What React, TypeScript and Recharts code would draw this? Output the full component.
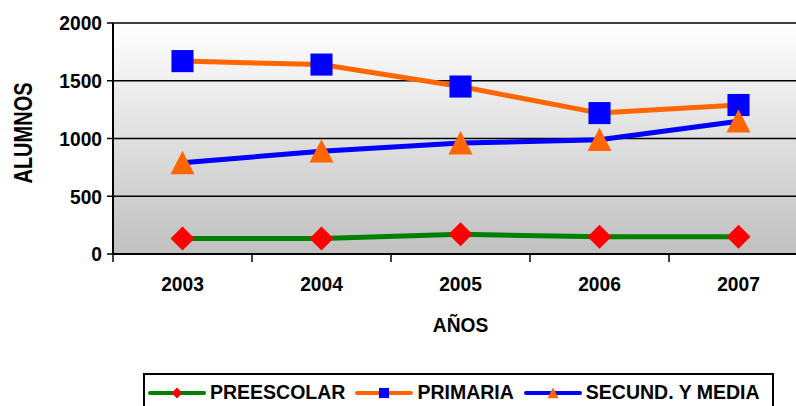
import { CartesianGrid, Line, LineChart, XAxis, YAxis } from 'recharts';

const YEARS = ['2003', '2004', '2005', '2006', '2007'];
const PREESCOLAR = [135, 135, 170, 150, 150];
const PRIMARIA = [1670, 1640, 1450, 1220, 1290];
const SECUNDARIA = [790, 890, 960, 990, 1150];
const Y_TICKS = [0, 500, 1000, 1500, 2000];

const data = YEARS.map((year, i) => ({
  year,
  preescolar: PREESCOLAR[i],
  primaria: PRIMARIA[i],
  secundaria: SECUNDARIA[i],
}));

const FONT = '"Liberation Sans", Arial, sans-serif';
const CHART_W = 808;
const PLOT_LEFT = 113;
const HALF_BAND = (CHART_W - PLOT_LEFT) / YEARS.length / 2;
const TEXT_SCALE = 'scale(0.96 1.05)';

type Shape = 'diamond' | 'square' | 'triangle';

const SERIES: { key: string; name: string; line: string; marker: string; shape: Shape }[] = [
  { key: 'preescolar', name: 'PREESCOLAR', line: '#008000', marker: '#ff0000', shape: 'diamond' },
  { key: 'primaria', name: 'PRIMARIA', line: '#ff6600', marker: '#0000ff', shape: 'square' },
  { key: 'secundaria', name: 'SECUND. Y MEDIA', line: '#0000ff', marker: '#ff6600', shape: 'triangle' },
];

function Marker({ shape, cx, cy, r, fill }: { shape: Shape; cx: number; cy: number; r: number; fill: string }) {
  if (shape === 'diamond')
    return <polygon points={`${cx},${cy - r} ${cx + r},${cy} ${cx},${cy + r} ${cx - r},${cy}`} fill={fill} />;
  if (shape === 'square')
    return <rect x={cx - r * 0.92} y={cy - r * 0.92} width={r * 1.84} height={r * 1.84} fill={fill} />;
  return <polygon points={`${cx},${cy - r} ${cx + r},${cy + r * 0.95} ${cx - r},${cy + r * 0.95}`} fill={fill} />;
}

function BoldText({ x, y, anchor, children }: { x: number; y: number; anchor: string; children: any }) {
  return (
    <text
      transform={`translate(${x} ${y}) ${TEXT_SCALE}`}
      textAnchor={anchor}
      dominantBaseline="central"
      fontFamily={FONT}
      fontWeight="bold"
      fontSize={20}
      fill="#000"
    >
      {children}
    </text>
  );
}

function YearTick({ x, y, payload, index }: any) {
  const last = index === YEARS.length - 1;
  return (
    <g>
      <line x1={x - HALF_BAND} y1={y} x2={x - HALF_BAND} y2={y + 8} stroke="#000" strokeWidth={1.5} />
      {last && <line x1={x + HALF_BAND} y1={y} x2={x + HALF_BAND} y2={y + 8} stroke="#000" strokeWidth={1.5} />}
      <BoldText x={x} y={y + 30} anchor="middle">
        {payload.value}
      </BoldText>
    </g>
  );
}

function ValueTick({ x, y, payload }: any) {
  return (
    <BoldText x={x} y={y} anchor="end">
      {payload.value}
    </BoldText>
  );
}

function LegendBox() {
  return (
    <div
      style={{
        position: 'absolute',
        left: 143,
        top: 373,
        width: 631,
        height: 40,
        border: '2px solid #000',
        background: '#fff',
        display: 'flex',
        alignItems: 'center',
        paddingLeft: 3,
        boxSizing: 'border-box',
        fontFamily: FONT,
        fontWeight: 'bold',
        fontSize: 19.5,
        color: '#000',
      }}
    >
      {SERIES.map((s) => (
        <div key={s.key} style={{ display: 'flex', alignItems: 'center', marginRight: 10, height: 30 }}>
          <svg width={58} height={16} style={{ marginRight: 4 }}>
            <line x1={2} y1={8} x2={56} y2={8} stroke={s.line} strokeWidth={4} strokeLinecap="round" />
            <Marker shape={s.shape} cx={29} cy={8} r={5.5} fill={s.marker} />
          </svg>
          <span style={{ display: 'inline-block', whiteSpace: 'nowrap', lineHeight: 1 }}>{s.name}</span>
        </div>
      ))}
    </div>
  );
}

export default function App() {
  return (
    <div
      style={{
        position: 'absolute',
        left: 0,
        top: 0,
        width: 796,
        height: 406,
        overflow: 'hidden',
        background: '#fff',
      }}
    >
      <LineChart width={CHART_W} height={406} data={data} margin={{ top: 23, right: 0, bottom: 0, left: 0 }}>
        <defs>
          <linearGradient id="plotBg" x1="0" y1="0" x2="0" y2="1">
            <stop offset="0%" stopColor="#ffffff" />
            <stop offset="100%" stopColor="#c0c0c0" />
          </linearGradient>
        </defs>
        <CartesianGrid vertical={false} stroke="#000" strokeWidth={1.5} fill="url(#plotBg)" fillOpacity={1} />
        <XAxis
          dataKey="year"
          height={152}
          padding={{ left: HALF_BAND, right: HALF_BAND }}
          axisLine={{ stroke: '#000', strokeWidth: 2 }}
          tickLine={false}
          tickSize={0}
          tickMargin={0}
          tick={<YearTick />}
          interval={0}
          label={{
            content: () => (
              <BoldText x={(PLOT_LEFT + CHART_W) / 2} y={325} anchor="middle">
                AÑOS
              </BoldText>
            ),
          }}
        />
        <YAxis
          width={PLOT_LEFT}
          domain={[0, 2000]}
          ticks={Y_TICKS}
          interval={0}
          axisLine={{ stroke: '#000', strokeWidth: 2 }}
          tickLine={{ stroke: '#000', strokeWidth: 1.5 }}
          tickSize={6}
          tickMargin={5}
          tick={<ValueTick />}
          label={{
            content: () => (
              <text
                transform="translate(24 133) scale(1 0.8) rotate(-90)"
                textAnchor="middle"
                dominantBaseline="central"
                fontFamily={FONT}
                fontWeight="bold"
                fontSize={25}
                fill="#000"
              >
                ALUMNOS
              </text>
            ),
          }}
        />
        {SERIES.map((s) => (
          <Line
            key={s.key}
            type="linear"
            dataKey={s.key}
            name={s.name}
            stroke={s.line}
            strokeWidth={5}
            isAnimationActive={false}
            activeDot={false}
            dot={(p: any) => (
              <Marker key={`${s.key}-${p.index}`} shape={s.shape} cx={p.cx} cy={p.cy} r={12} fill={s.marker} />
            )}
          />
        ))}
      </LineChart>
      <LegendBox />
    </div>
  );
}
